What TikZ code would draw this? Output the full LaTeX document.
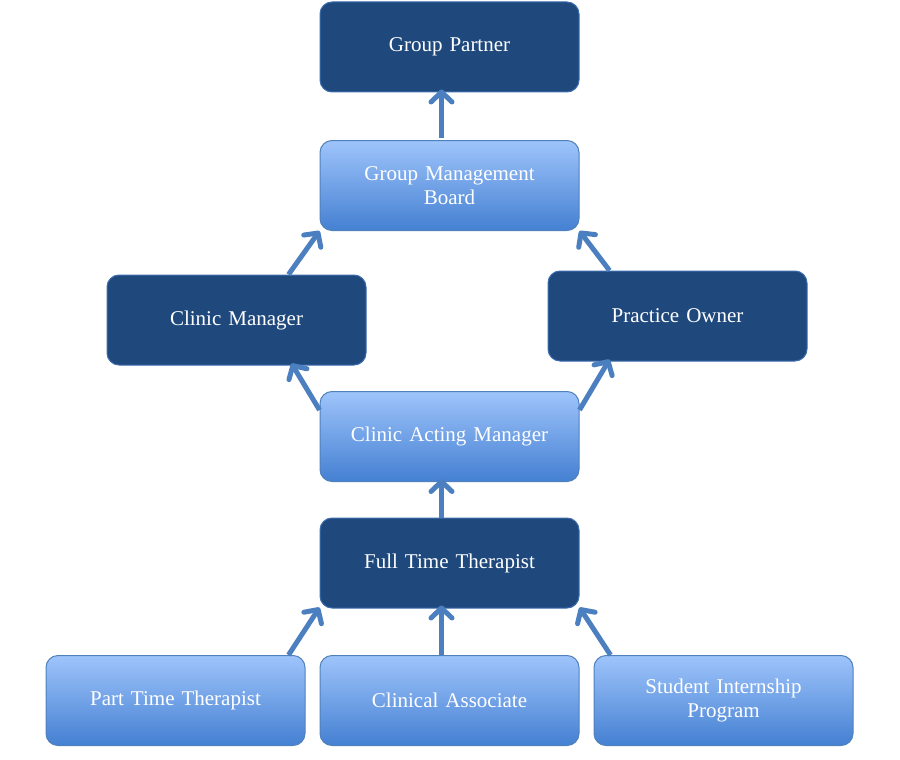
\documentclass[tikz,border=0pt]{standalone}
\usepackage{fontspec}
\setmainfont{Liberation Serif}
\usetikzlibrary{arrows.meta,calc}

\definecolor{navyfill}{HTML}{1F497D}
\definecolor{navyline}{HTML}{3D6DAE}
\definecolor{skytop}{HTML}{9EC4FB}
\definecolor{skybottom}{HTML}{4580D2}
\definecolor{skyline}{HTML}{4F81BD}
\definecolor{arrowblue}{HTML}{4C7FC0}

\tikzset{
    box/.style={
        rectangle,
        rounded corners=12pt,
        minimum width=259pt,
        minimum height=90pt,
        text width=240pt,
        align=center,
        text=white,
        font=\fontsize{21}{24}\selectfont
    },
    darkbox/.style={box, fill=navyfill, draw=navyline, line width=1pt},
    lightbox/.style={box, top color=skytop, bottom color=skybottom,
        draw=skyline, line width=1pt},
    uparrow/.style={
        draw=arrowblue,
        line width=5pt,
        -{Straight Barb[length=10pt,width=21pt,round]}
    }
}

\begin{document}
\begin{tikzpicture}[x=1pt,y=-1pt]

    \useasboundingbox (0,0) rectangle (900,760);

    % Boxes
    \node[darkbox] (gp) at (449.5,47) {Group Partner};
    \node[lightbox] (gmb) at (449.5,185.5) {Group Management\\Board};
    \node[darkbox] (cm) at (236.5,320) {Clinic Manager};
    \node[darkbox] (po) at (677.5,316) {Practice Owner};
    \node[lightbox] (cam) at (449.5,436.5) {Clinic Acting Manager};
    \node[darkbox] (ftt) at (449.5,563) {Full Time Therapist};
    \node[lightbox] (ptt) at (175.5,700.5) {Part Time Therapist};
    \node[lightbox] (ca) at (449.5,700.5) {Clinical Associate};
    \node[lightbox] (sip) at (723.5,700.5) {Student Internship\\Program};

    % Arrows
    \draw[uparrow] ($(gmb.north)+(-8,-2)$) -- ($(gp.south)+(-8,-3)$);
    \draw[uparrow] ($(cm.north)+(52,0)$) -- (gmb.south west);
    \draw[uparrow] ($(po.north)+(-68,0)$) -- (gmb.south east);
    \draw[uparrow] ($(cam.north west)+(0,19)$) -- ($(cm.south)+(55,-2)$);
    \draw[uparrow] ($(cam.north east)+(0,19)$) -- ($(po.south)+(-68,-2)$);
    \draw[uparrow] ($(ftt.north)+(-8,0)$) -- ($(cam.south)+(-8,-3)$);
    \draw[uparrow] ($(ptt.north)+(113,0)$) -- ($(ftt.south west)+(0,-1)$);
    \draw[uparrow] ($(ca.north)+(-8,0)$) -- ($(ftt.south)+(-8,-3)$);
    \draw[uparrow] ($(sip.north)+(-113,0)$) -- ($(ftt.south east)+(0,-1)$);

\end{tikzpicture}
\end{document}
